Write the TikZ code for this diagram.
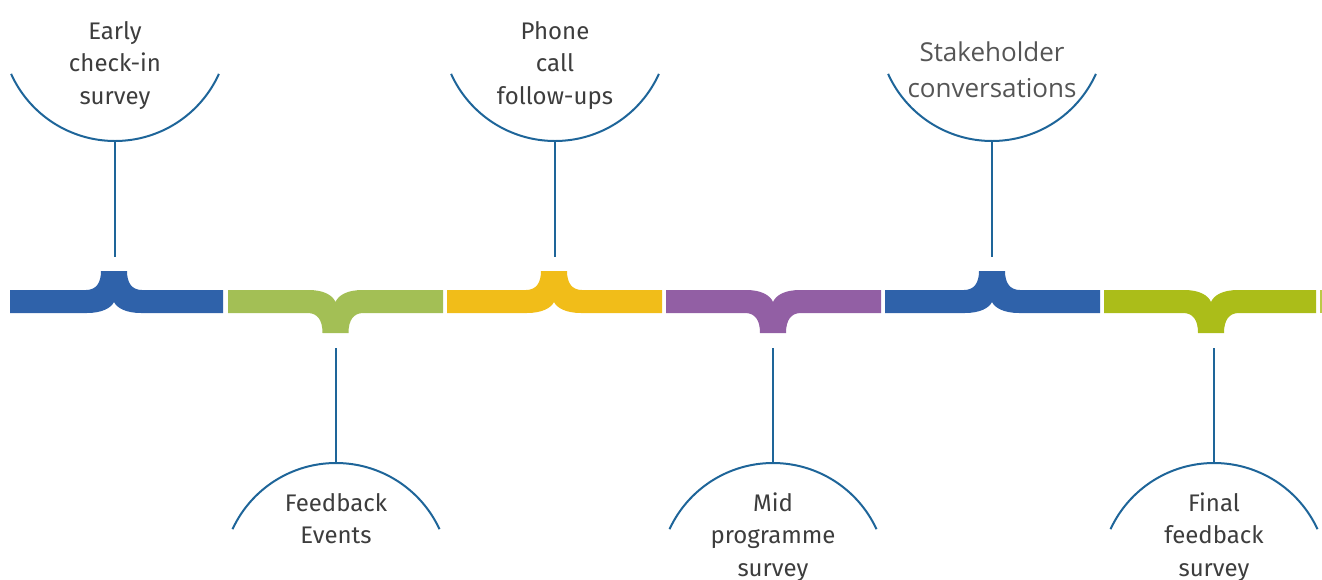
\documentclass[tikz,border=0pt]{standalone}
\usepackage{fontspec}
\setmainfont{Fira Sans}
\newfontfamily\convfont{Open Sans}

\definecolor{barblue}{HTML}{2F62AA}
\definecolor{bargreen}{HTML}{A3BF55}
\definecolor{baryellow}{HTML}{F1BD19}
\definecolor{barpurple}{HTML}{925FA4}
\definecolor{barlime}{HTML}{ABBD19}
\definecolor{linkblue}{HTML}{1E6599}
\definecolor{labelgrey}{HTML}{3D3D3D}
\definecolor{convgrey}{HTML}{555555}

% bar segment with a brace bump pointing up: colour, left, right, centre
\newcommand\segup[4]{%
  \fill[#1] (#2,290) -- ({#4-28},290) .. controls ({#4-18},290) and ({#4-13},283) .. ({#4-13},271)
    -- ({#4+13},271) .. controls ({#4+13},283) and ({#4+18},290) .. ({#4+28},290)
    -- (#3,290) -- (#3,313) -- ({#4+27},313) .. controls ({#4+12},313) and ({#4+3},308) .. (#4,302)
    .. controls ({#4-3},308) and ({#4-12},313) .. ({#4-27},313) -- (#2,313) -- cycle;}
% bar segment with a brace bump pointing down
\newcommand\segdown[4]{%
  \fill[#1] (#2,290) -- ({#4-27},290) .. controls ({#4-12},290) and ({#4-3},295) .. (#4,302)
    .. controls ({#4+3},295) and ({#4+12},290) .. ({#4+27},290)
    -- (#3,290) -- (#3,313) -- ({#4+28},313) .. controls ({#4+18},313) and ({#4+13},320) .. ({#4+13},333)
    -- ({#4-13},333) .. controls ({#4-13},320) and ({#4-18},313) .. ({#4-28},313)
    -- (#2,313) -- cycle;}

\begin{document}
\begin{tikzpicture}[x=1pt,y=-1pt,
  stem/.style={draw=linkblue, line width=2pt},
  rim/.style={draw=linkblue, line width=2pt},
  lbl/.style={anchor=base, inner sep=0pt, text=labelgrey,
    font=\fontsize{24}{32.5}\selectfont},
  convlbl/.style={anchor=base, inner sep=0pt, text=convgrey,
    font=\convfont\fontsize{26}{36}\selectfont}]
\useasboundingbox (0,0) rectangle (1322,579);
\setlength{\tabcolsep}{0pt}

% the timeline bar
\segup{barblue}{10}{223}{114}
\segdown{bargreen}{228}{443}{335.5}
\segup{baryellow}{447}{662}{554}
\segdown{barpurple}{666}{881}{773}
\segup{barblue}{885}{1100}{992}
\segdown{barlime}{1104}{1316}{1211}
\fill[barlime!80!white] (1320,290) rectangle (1322,313);

% labels above the bar
\node[lbl] (early) at (115,39) {\begin{tabular}[t]{c}Early\\check-in\\survey\end{tabular}};
\node[lbl] (phone) at (555,39) {\begin{tabular}[t]{c}Phone\\call\\follow-ups\end{tabular}};
\node[convlbl] (stake) at (992,61) {\begin{tabular}[t]{c}Stakeholder\\conversations\end{tabular}};

% labels below the bar
\node[lbl] (feedback) at (336,511) {\begin{tabular}[t]{c}Feedback\\Events\end{tabular}};
\node[lbl] (mid) at (773,511) {\begin{tabular}[t]{c}Mid\\programme\\survey\end{tabular}};
\node[lbl] (final) at (1214,511) {\begin{tabular}[t]{c}Final\\feedback\\survey\end{tabular}};

% rim and stub points for the connectors
\coordinate (earlyrim) at (115,141);   \coordinate (earlytab) at (115,257);
\coordinate (phonerim) at (555,141);   \coordinate (phonetab) at (555,257);
\coordinate (stakerim) at (992,141);   \coordinate (staketab) at (992,257);
\coordinate (feedrim)  at (336,463);   \coordinate (feedtab)  at (336,348);
\coordinate (midrim)   at (773,463);   \coordinate (midtab)   at (773,348);
\coordinate (finalrim) at (1214,463);  \coordinate (finaltab) at (1214,348);

% upper bowls and their stems
\foreach \p in {earlyrim,phonerim,stakerim}{
  \draw[rim] (\p) arc[start angle=90,end angle=155.7,radius=114]
             (\p) arc[start angle=90,end angle=24.3,radius=114];
}
\draw[stem] (earlyrim) -- (earlytab);
\draw[stem] (phonerim) -- (phonetab);
\draw[stem] (stakerim) -- (staketab);

% lower domes and their stems
\foreach \p in {feedrim,midrim,finalrim}{
  \draw[rim] (\p) arc[start angle=-90,end angle=-155.2,radius=114]
             (\p) arc[start angle=-90,end angle=-24.8,radius=114];
}
\draw[stem] (feedtab) -- (feedrim);
\draw[stem] (midtab) -- (midrim);
\draw[stem] (finaltab) -- (finalrim);
\end{tikzpicture}
\end{document}
